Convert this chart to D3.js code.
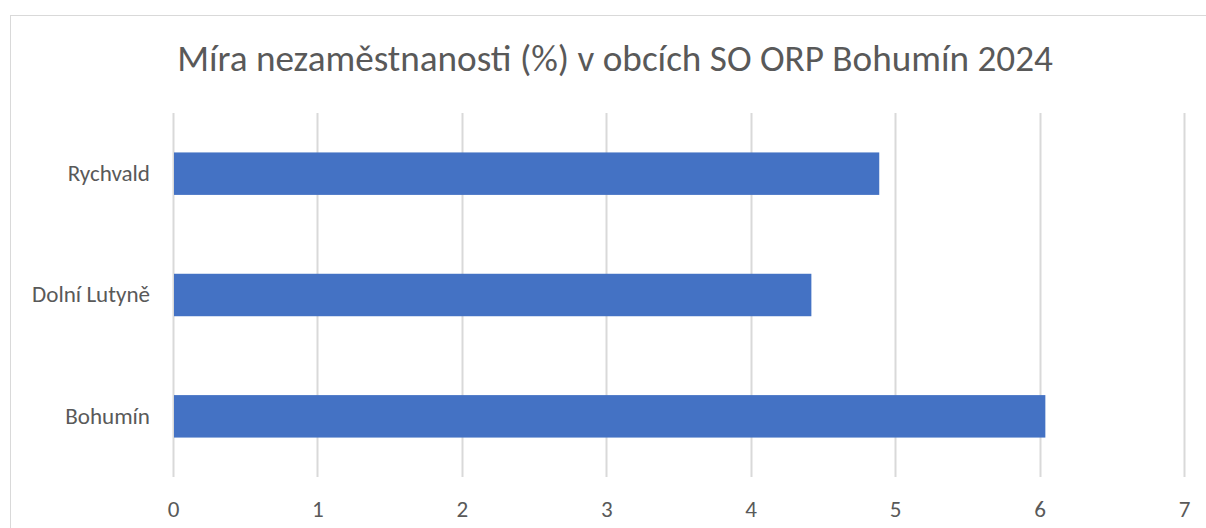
<!DOCTYPE html>
<html>
<head>
<meta charset="utf-8">
<script src="https://cdn.jsdelivr.net/npm/d3@7"></script>
<style>
  html, body { margin: 0; padding: 0; background: #fff; }
  svg { display: block; }
  text { font-family: Carlito, Calibri, "Open Sans", sans-serif; fill: #595959; }
</style>
</head>
<body>
<div id="chart"></div>
<script>
// chart data
const title = "Míra nezaměstnanosti (%) v obcích SO ORP Bohumín 2024";
const categories = ["Rychvald", "Dolní Lutyně", "Bohumín"];
const values = [4.89, 4.42, 6.04];
const xTicks = [0, 1, 2, 3, 4, 5, 6, 7];

const width = 1206;
const height = 528;
const margin = { top: 113, right: 22, bottom: 51, left: 173 };

const svg = d3.select('#chart')
    .append('svg')
    .attr('width', width)
    .attr('height', height);

// chart frame (runs off the right / bottom edge like the source)
svg.append('rect')
    .attr('x', 10.5)
    .attr('y', 15.5)
    .attr('width', width + 20)
    .attr('height', height + 20)
    .attr('fill', '#fff')
    .attr('stroke', '#d9d9d9')
    .attr('stroke-width', 1);

const x = d3.scaleLinear()
    .domain([0, 7])
    .range([margin.left, width - margin.right]);

const y = d3.scaleBand()
    .domain(categories)
    .range([margin.top, height - margin.bottom])
    .paddingInner(0.65)
    .paddingOuter(0.325);

// fit a font size so that a string is as wide as measured in the source
function fitSize(str, target, base) {
    const t = svg.append('text').attr('font-size', base).text(str);
    const w = t.node().getComputedTextLength();
    t.remove();
    return base * target / w;
}

const titleSize = fitSize(title, 876, 30);
const labelSize = fitSize("Dolní Lutyně", 118, 20);

// gridlines
svg.append('g')
    .selectAll('line')
    .data(xTicks)
    .enter()
    .append('line')
    .attr('x1', d => Math.round(x(d)) + 0.5)
    .attr('x2', d => Math.round(x(d)) + 0.5)
    .attr('y1', margin.top)
    .attr('y2', height - margin.bottom)
    .attr('stroke', '#d9d9d9')
    .attr('stroke-width', 2);

// bars
svg.append('g')
    .selectAll('rect')
    .data(categories)
    .enter()
    .append('rect')
    .attr('x', x(0) + 1)
    .attr('y', d => y(d))
    .attr('width', (d, i) => x(values[i]) - x(0) - 1)
    .attr('height', y.bandwidth())
    .attr('fill', '#4472c4');

// x axis labels
const xAxis = svg.append('g')
    .attr('transform', `translate(0,${height - margin.bottom})`)
    .call(d3.axisBottom(x).tickValues(xTicks).tickFormat(d3.format('d')).tickSize(0).tickPadding(0));
xAxis.select('.domain').remove();
xAxis.selectAll('text')
    .attr('dy', null)
    .attr('y', 40)
    .attr('font-size', labelSize)
    .attr('font-family', null)
    .attr('fill', '#595959');

// y axis labels
const yAxis = svg.append('g')
    .attr('transform', `translate(${margin.left},0)`)
    .call(d3.axisLeft(y).tickSize(0).tickPadding(23));
yAxis.select('.domain').remove();
yAxis.selectAll('text')
    .attr('font-size', labelSize)
    .attr('font-family', null)
    .attr('fill', '#595959');

// title
svg.append('text')
    .attr('x', 615)
    .attr('y', 71)
    .attr('text-anchor', 'middle')
    .attr('font-size', titleSize)
    .text(title);
</script>
</body>
</html>
